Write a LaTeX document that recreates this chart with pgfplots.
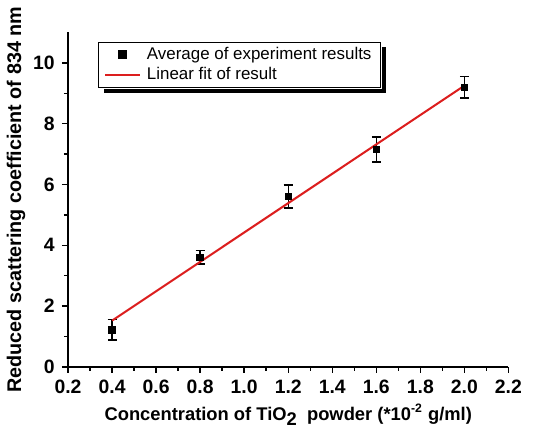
\documentclass[border=0pt]{standalone}
\usepackage{fontspec}
\setmainfont{Liberation Sans}
\usepackage{pgfplots}
\pgfplotsset{compat=1.18}
\definecolor{fitred}{RGB}{220,30,30}
\begin{document}
\begin{tikzpicture}
\begin{axis}[
  name=ax,
  scale only axis, width=216pt, height=164pt,
  xmin=0.2, xmax=2.2, ymin=0, ymax=11,
  axis x line*=bottom, axis y line*=left,
  axis line style={line width=0.8pt},
  every tick/.style={black, line width=0.7pt},
  tick align=outside,
  major tick length=3pt, minor tick length=2pt,
  xtick={0.2,0.4,0.6,0.8,1.0,1.2,1.4,1.6,1.8,2.0,2.2},
  ytick={0,2,4,6,8,10},
  minor x tick num=1, minor y tick num=1,
  /pgf/number format/assume math mode=true,
  ticklabel style={font=\fontsize{9.5}{10}\selectfont\bfseries},
  xticklabel style={/pgf/number format/.cd, fixed, fixed zerofill, precision=1},
  yticklabel style={/pgf/number format/.cd, fixed, precision=0},
  xlabel={Concentration of TiO\raisebox{-0.55ex}{2}\ \ powder (*10\textsuperscript{-2} g/ml)},
  ylabel={Reduced scattering coefficient of 834 nm},
  xlabel style={font=\fontsize{9}{10}\selectfont\bfseries, yshift=2pt},
  ylabel style={font=\fontsize{9.7}{10}\selectfont\bfseries, yshift=-3pt},
  legend cell align=left,
  legend style={name=leg, at={(rel axis cs:0.069,0.973)}, anchor=north west,
    draw=black, line width=0.5pt, fill=white,
    font=\fontsize{8.3}{9}\selectfont,
    row sep=-1.5pt, inner xsep=2.5pt, inner ysep=0.5pt, column sep=1pt},
  legend image post style={line width=1pt},
]
\addplot[only marks, mark=square*, mark size=1.6pt, black,
  error bars/.cd, y dir=both, y explicit,
  error bar style={line width=0.7pt},
  error mark options={rotate=90, mark size=2.2pt, line width=0.7pt}]
  coordinates {
  (0.4,1.22) +- (0,0.34)
  (0.8,3.60) +- (0,0.22)
  (1.2,5.60) +- (0,0.38)
  (1.6,7.15) +- (0,0.41)
  (2.0,9.20) +- (0,0.36)
  };
\addlegendentry{Average of experiment results}
\addplot[fitred, line width=1pt] coordinates {(0.4,1.52) (2.0,9.25)};
\addlegendentry{Linear fit of result}
\end{axis}
\fill[black] ([xshift=2.5pt,yshift=-0.25pt]leg.south west) rectangle ([xshift=2.2pt,yshift=-2.4pt]leg.south east);
\fill[black] ([xshift=0.25pt,yshift=-2.5pt]leg.north east) rectangle ([xshift=2.2pt,yshift=-2.4pt]leg.south east);
\path ([xshift=16pt]ax.south east);
\end{tikzpicture}
\end{document}
